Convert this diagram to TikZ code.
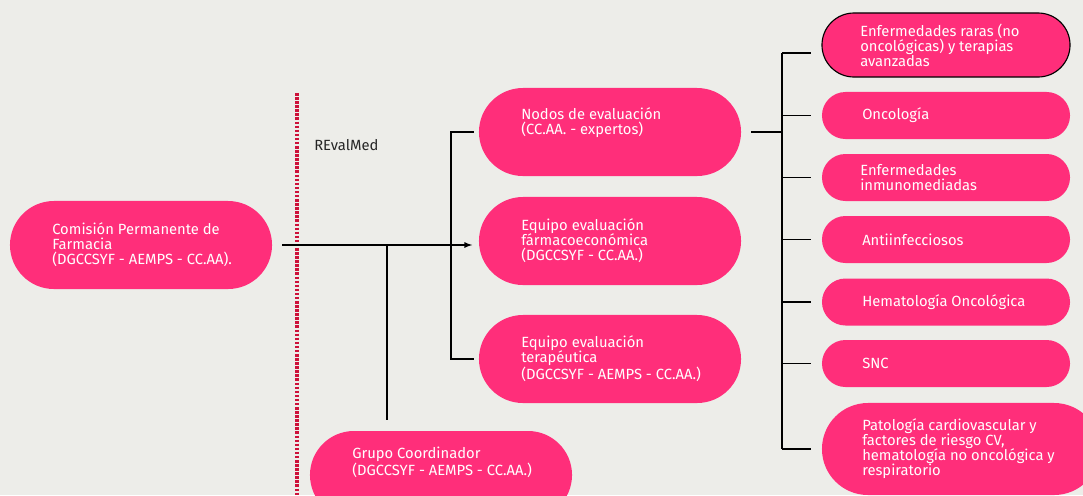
\documentclass[tikz,border=0pt]{standalone}
\usepackage{fontspec}
\setmainfont{Fira Sans}
\usepackage{tikz}
\usetikzlibrary{calc}

\definecolor{fondo}{RGB}{237,237,233}
\definecolor{rosa}{RGB}{255,46,122}
\definecolor{rojo}{RGB}{205,18,58}

\tikzset{
	caja/.style={rectangle, fill=rosa, outer sep=0pt, minimum width=6.55cm, minimum height=2.2cm, rounded corners=1.1cm},
	area/.style={rectangle, fill=rosa, outer sep=0pt, minimum width=6.2cm, minimum height=1.175cm, rounded corners=0.5875cm},
	texto/.style={text=white, align=left, inner sep=0pt, anchor=west, font=\fontsize{10.5}{10.7}\selectfont},
	linea/.style={draw=black, line width=0.9pt},
}

\begin{document}
\begin{tikzpicture}[x=0.025cm, y=-0.025cm]
				\useasboundingbox[fill=fondo] (0,0) rectangle (1083,495);
				\clip (0,0) rectangle (1083,495);
				
				\draw[rojo, line width=2.2pt, dash pattern=on 1.8pt off 1.1pt] (297,93) -- (297,495);
				\node[anchor=west, inner sep=0pt, text=black!85, font=\fontsize{10.5}{12}\selectfont] (revalmed) at (314,145) {REvalMed};
				
				% columna izquierda
				\node[caja] (comision) at (141,245) {};
				\node[texto] (tcomision) at ([xshift=1.05cm]comision.west) {Comisión Permanente de\\Farmacia\\(DGCCSYF - AEMPS - CC.AA).};
				
				\node[caja] (grupo) at (441,475) {};
				\node[texto] (tgrupo) at ([xshift=1.05cm, yshift=0.31cm]grupo.west) {Grupo Coordinador\\(DGCCSYF - AEMPS - CC.AA.)};
				
				% columna central
				\node[caja] (nodos) at (610,132) {};
				\node[texto] (tnodos) at ([xshift=1.05cm, yshift=0.24cm]nodos.west) {Nodos de evaluación\\(CC.AA. - expertos)};
				
				\node[caja] (farmaco) at (610,241) {};
				\node[texto] (tfarmaco) at ([xshift=1.05cm]farmaco.west) {Equipo evaluación\\fármacoeconómica\\(DGCCSYF - CC.AA.)};
				
				\node[caja] (terapeutica) at (610,359) {};
				\node[texto] (tterapeutica) at ([xshift=1.05cm]terapeutica.west) {Equipo evaluación\\terapéutica\\(DGCCSYF - AEMPS - CC.AA.)};
				
				% columna derecha
				\node[area, minimum height=1.6cm, rounded corners=0.8cm, draw=black, line width=0.8pt] (raras) at (946,45) {};
				\node[texto] (traras) at ([xshift=0.95cm]raras.west) {Enfermedades raras (no\\oncológicas) y terapias\\avanzadas};
				
				\node[area] (onco) at (946,115.5) {};
				\node[texto] (tonco) at ([xshift=1.0cm]onco.west) {Oncología};
				
				\node[area] (inmuno) at (946,177.5) {};
				\node[texto] (tinmuno) at ([xshift=0.95cm]inmuno.west) {Enfermedades\\inmunomediadas};
				
				\node[area] (anti) at (946,239.5) {};
				\node[texto] (tanti) at ([xshift=1.0cm]anti.west) {Antiinfecciosos};
				
				\node[area] (hemato) at (946,302) {};
				\node[texto] (themato) at ([xshift=1.0cm]hemato.west) {Hematología Oncológica};
				
				\node[area] (snc) at (946,363.5) {};
				\node[texto] (tsnc) at ([xshift=1.0cm]snc.west) {SNC};
				
				\node[area, minimum width=6.95cm, minimum height=2.3cm, rounded corners=1.15cm] (pato) at (961,449) {};
				\node[texto] (tpato) at ([xshift=1.0cm]pato.west) {Patología cardiovascular y\\factores de riesgo CV,\\hematología no oncológica y\\respiratorio};
				
				% conexiones
				\coordinate (j1) at (387,245);
				\coordinate (j2) at (451,245);
				\coordinate (j3) at (782,132);
				
				\draw[linea, -latex, shorten <=0.25cm, shorten >=0.17cm] (comision.east) -- (comision.east -| farmaco.west);
				\draw[linea, shorten >=0.275cm] (j1) -- (j1 |- grupo.north);
				\draw[linea, shorten <=0.125cm, shorten >=0.125cm] (nodos.west) -| (j2) |- (terapeutica.west);
				
				\draw[linea, shorten <=0.25cm] (nodos.east) -- (j3);
				\draw[linea] ([yshift=-0.2cm]j3 |- raras.west) -- (j3 |- pato.west);
				\draw[linea, shorten >=0.275cm] ([yshift=-0.2cm]j3 |- raras.west) -- ([yshift=-0.2cm]raras.west);
				\draw[linea, shorten >=0.275cm] (j3 |- onco.west) -- (onco.west);
				\draw[linea, shorten >=0.275cm] (j3 |- inmuno.west) -- (inmuno.west);
				\draw[linea, shorten >=0.275cm] (j3 |- anti.west) -- (anti.west);
				\draw[linea, shorten >=0.275cm] (j3 |- hemato.west) -- (hemato.west);
				\draw[linea, shorten >=0.275cm] (j3 |- snc.west) -- (snc.west);
				\draw[linea, shorten >=0.275cm] (j3 |- pato.west) -- (pato.west);
\end{tikzpicture}
\end{document}
